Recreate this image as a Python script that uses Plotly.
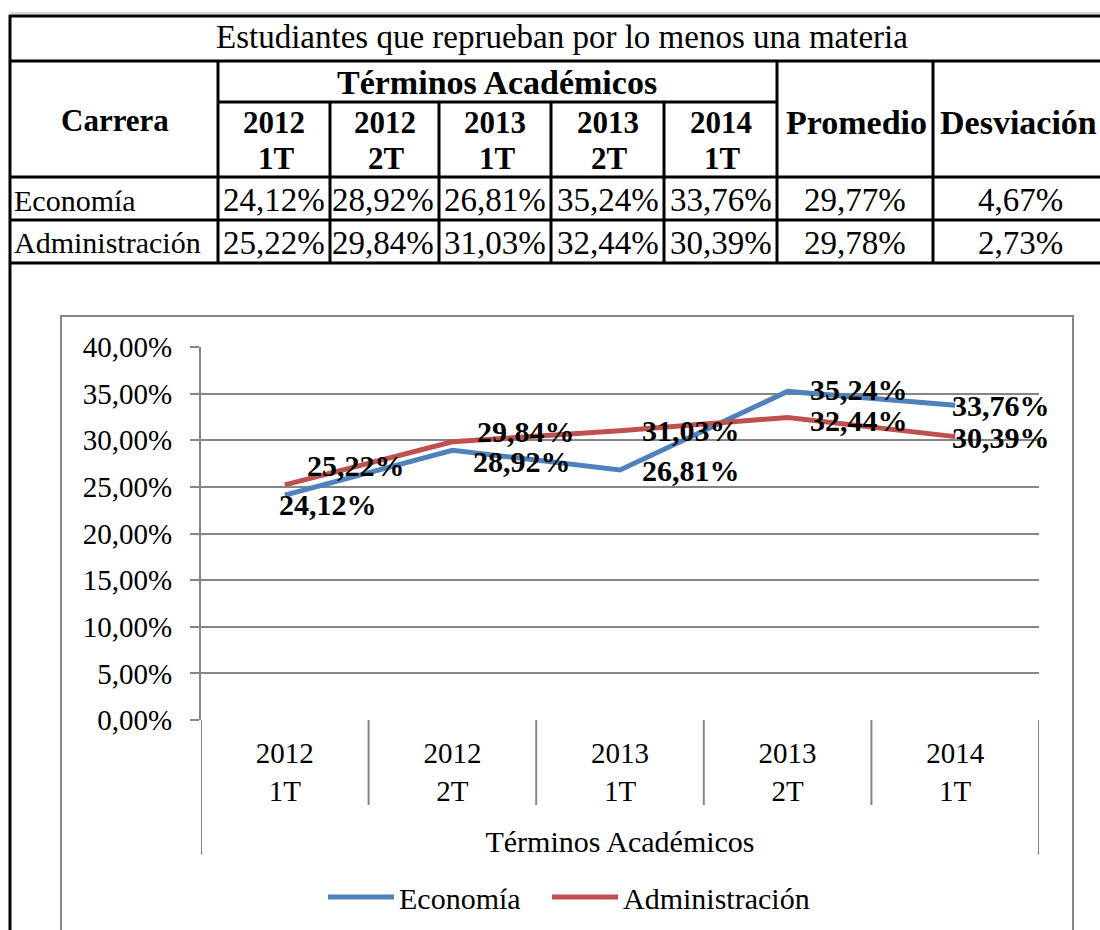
import plotly.graph_objects as go

# ---------------- data ----------------
terms = ["2012 1T", "2012 2T", "2013 1T", "2013 2T", "2014 1T"]
term_labels = ["2012<br>1T", "2012<br>2T", "2013<br>1T", "2013<br>2T", "2014<br>1T"]
header_years = ["2012", "2012", "2013", "2013", "2014"]
header_terms = ["1T", "2T", "1T", "2T", "1T"]
careers = ["Economía", "Administración"]
economia = [24.12, 28.92, 26.81, 35.24, 33.76]
administracion = [25.22, 29.84, 31.03, 32.44, 30.39]
promedio = [29.77, 29.78]
desviacion = [4.67, 2.73]
y_ticks = [0, 5, 10, 15, 20, 25, 30, 35, 40]

title_text = "Estudiantes que reprueban por lo menos una materia"
axis_title = "Términos Académicos"

# ---------------- layout helpers ----------------
W, H = 1100, 930
FONT = "Liberation Serif"
GRID = "#868686"
BLUE = "#4F81BD"
RED = "#C0504D"


def px(x):
    return x / W


def py(y):
    return 1 - y / H


def pct(v):
    return f"{v:.2f}".replace(".", ",") + "%"


fig = go.Figure()

series = [("Economía", economia, BLUE, "legend"), ("Administración", administracion, RED, "legend2")]
for name, vals, col, leg in series:
    fig.add_trace(go.Scatter(
        x=terms, y=vals, mode="lines", name=name,
        line=dict(color=col, width=5),
        hoverinfo="skip", legend=leg,
    ))

# data label offsets (pixels, plotly convention: +y is up) relative to the points
label_shift = {
    "Economía": [(43, -8), (70, -10), (71, 0), (71, 3), (46, 1)],
    "Administración": [(71, 20), (74, 11), (71, 1), (71, -2), (46, 0)],
}

annotations = []


def txt(x, y, text, size, bold=False, xanchor="center"):
    annotations.append(dict(
        x=px(x), y=py(y), xref="paper", yref="paper",
        text=("<b>" + text + "</b>") if bold else text,
        showarrow=False, xanchor=xanchor, yanchor="middle",
        font=dict(family=FONT, size=size, color="black"),
    ))


for name, vals, col, leg in series:
    for i, v in enumerate(vals):
        dx, dy = label_shift[name][i]
        annotations.append(dict(
            x=terms[i], y=v, xref="x", yref="y", text="<b>" + pct(v) + "</b>",
            showarrow=False, xanchor="center", yanchor="middle",
            xshift=dx, yshift=dy - 1,
            font=dict(family=FONT, size=30, color="black"),
        ))

shapes = []
# ---------- table ----------
BLK = dict(color="black", width=3)


def hline(x0, x1, y, line=BLK):
    shapes.append(dict(type="line", xref="paper", yref="paper",
                       x0=px(x0), x1=px(x1), y0=py(y), y1=py(y), line=line))


def vline(x, y0, y1, line=BLK):
    shapes.append(dict(type="line", xref="paper", yref="paper",
                       x0=px(x), x1=px(x), y0=py(y0), y1=py(y1), line=line))


hline(10, 1110, 13, dict(color="#B0B0B0", width=1))
hline(9, 1110, 16)
hline(9, 1110, 61)
hline(218, 777, 102)
hline(9, 1110, 177)
hline(9, 1110, 220)
hline(9, 1110, 263)
vline(10, 15, 935)
col_edges = [218, 330, 439, 551, 664, 777, 933]
vline(218, 61, 263)
for xe in col_edges[1:5]:
    vline(xe, 102, 263)
vline(777, 61, 263)
vline(933, 61, 263)

TF = 33
txt(562, 37, title_text, TF)
txt(497, 83, axis_title, TF + 1, bold=True)
txt(115, 120, "Carrera", TF - 2, bold=True)
for i in range(5):
    cx = (col_edges[i] + col_edges[i + 1]) / 2
    txt(cx, 122, header_years[i], TF - 2, bold=True)
    txt(cx + 2, 159, header_terms[i], TF - 2, bold=True)
txt(856, 122, "Promedio", TF + 1, bold=True)
txt(938, 122, "Desviación", TF + 1, bold=True, xanchor="left")

row_y = [200, 243]
row_vals = [economia, administracion]
for r in range(2):
    txt(12, row_y[r], careers[r], TF - 3, xanchor="left")
    for i in range(5):
        txt(col_edges[i + 1] - 3, row_y[r], pct(row_vals[r][i]), TF, xanchor="right")
    txt(855, row_y[r], pct(promedio[r]), TF)
    txt(1020, row_y[r], pct(desviacion[r]), TF)

# ---------- chart frame ----------
shapes.append(dict(type="rect", xref="paper", yref="paper", x0=px(61), x1=px(1073),
                   y0=py(940), y1=py(316), line=dict(color=GRID, width=2), layer="below"))
GL = dict(color=GRID, width=2)
# multi-level category axis borders
shapes.append(dict(type="line", xref="x", yref="paper", x0=-0.5, x1=-0.5,
                   y0=py(720), y1=py(855), line=GL))
shapes.append(dict(type="line", xref="x", yref="paper", x0=len(terms) - 0.5, x1=len(terms) - 0.5,
                   y0=py(720), y1=py(855), line=GL))
for i in range(1, len(terms)):
    shapes.append(dict(type="line", xref="x", yref="paper", x0=i - 0.5, x1=i - 0.5,
                       y0=py(720), y1=py(805), line=GL))

legend_style = dict(orientation="h", xanchor="left", y=py(897), yanchor="middle",
                    font=dict(family=FONT, size=30, color="black"), bgcolor="rgba(0,0,0,0)",
                    itemwidth=66, tracegroupgap=0)

fig.update_layout(
    width=W, height=H,
    margin=dict(l=0, r=0, t=0, b=0, autoexpand=False),
    paper_bgcolor="white", plot_bgcolor="white",
    separators=",.",
    font=dict(family=FONT, color="black"),
    shapes=shapes,
    annotations=annotations,
    showlegend=True,
    legend=dict(x=px(323), **legend_style),
    legend2=dict(x=px(547), **legend_style),
    xaxis=dict(
        type="category", domain=[px(201), px(1039)], range=[-0.5, len(terms) - 0.5],
        tickvals=terms, ticktext=term_labels, showgrid=False, showline=False, zeroline=False,
        ticks="", tickfont=dict(family=FONT, size=29, color="black"),
        ticklabelstandoff=13, automargin=False,
        title=dict(text=axis_title, font=dict(family=FONT, size=30, color="black"), standoff=25),
        fixedrange=True,
    ),
    yaxis=dict(
        domain=[py(720), py(347)], range=[0, 40], tickvals=y_ticks,
        ticktext=[pct(v) for v in y_ticks], showgrid=True, gridcolor=GRID, gridwidth=2,
        zeroline=False, showline=True, linecolor=GRID, linewidth=2,
        ticks="outside", ticklen=9, tickcolor=GRID, tickwidth=2,
        tickfont=dict(family=FONT, size=29, color="black"), ticklabelstandoff=12,
        automargin=False, fixedrange=True,
    ),
)

fig.write_html("out.html", config={"displayModeBar": False},
               post_script="document.body.style.margin='0';document.body.style.overflow='hidden';")
